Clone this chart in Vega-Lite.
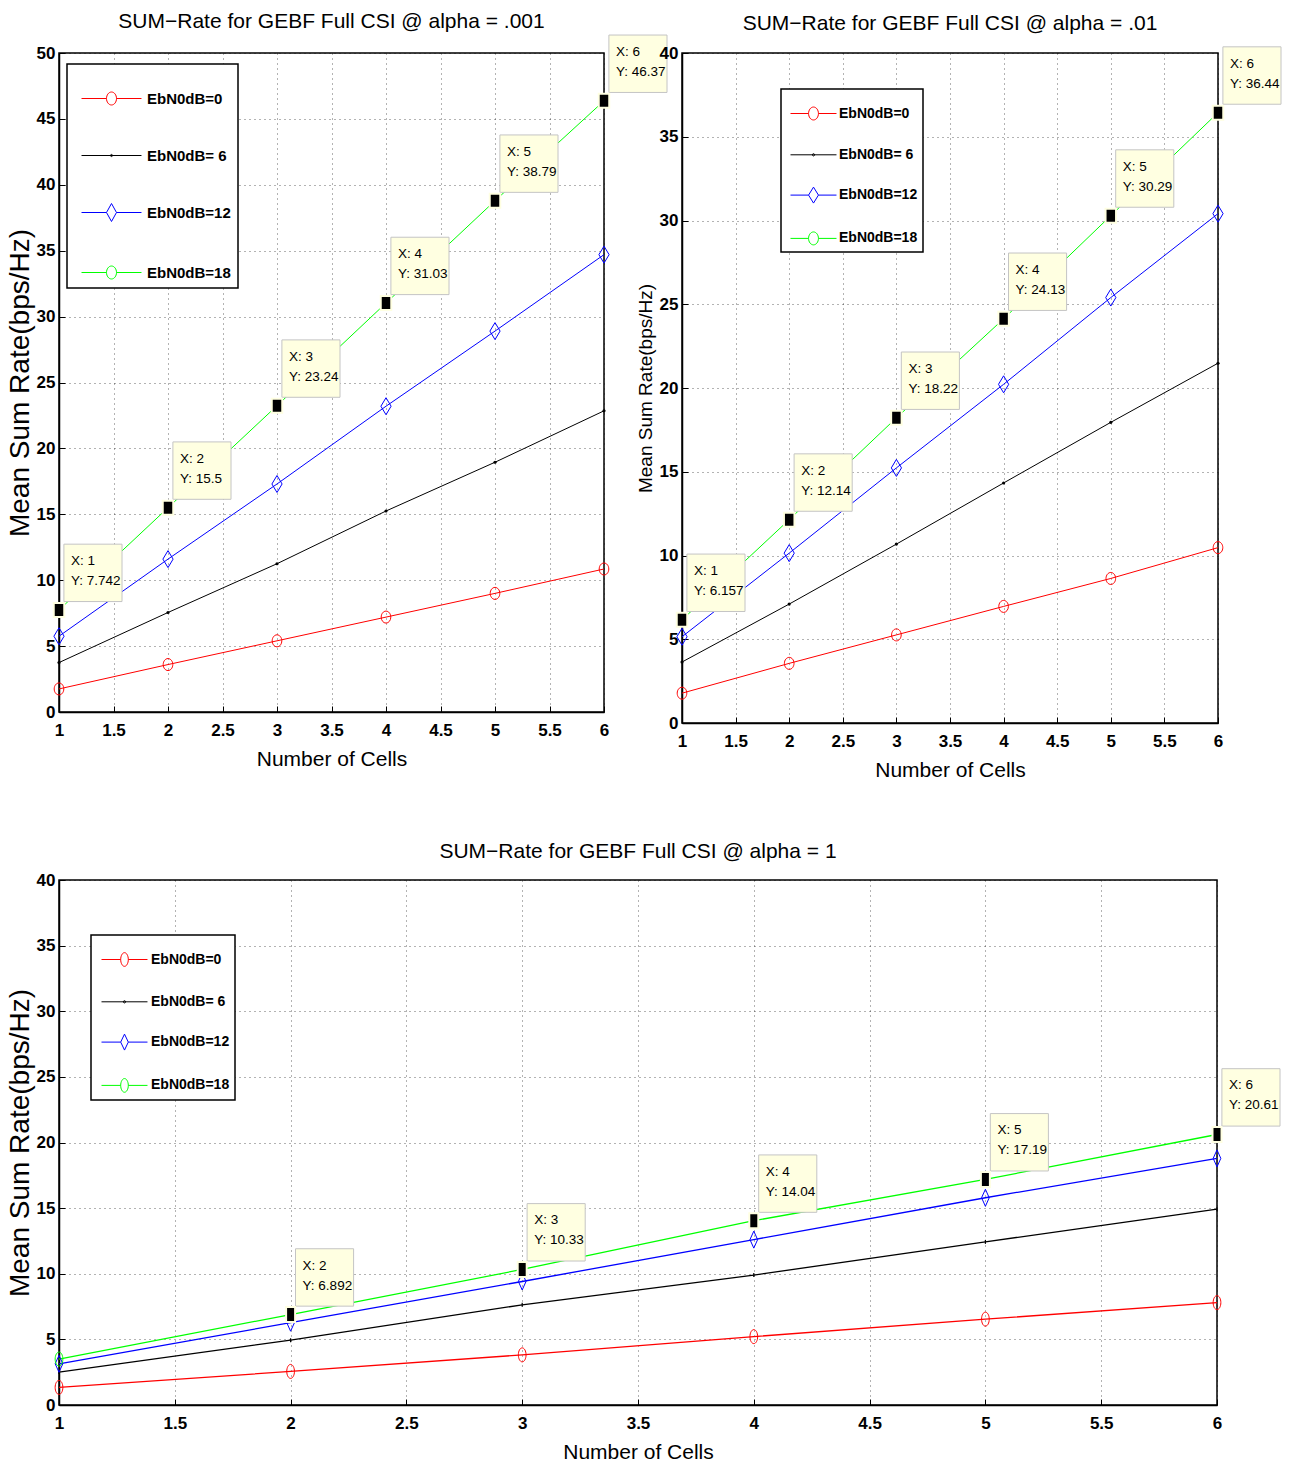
{
  "$schema": "https://vega.github.io/schema/vega-lite/v6.json",
  "background": "white",
  "padding": {"left": 5, "top": 10, "right": 5, "bottom": 5},
  "datasets": {
    "d": [
      {"p": "a", "s": "EbN0dB=0", "x": 1, "y": 1.75},
      {"p": "a", "s": "EbN0dB=0", "x": 2, "y": 3.6},
      {"p": "a", "s": "EbN0dB=0", "x": 3, "y": 5.4},
      {"p": "a", "s": "EbN0dB=0", "x": 4, "y": 7.2},
      {"p": "a", "s": "EbN0dB=0", "x": 5, "y": 9.0},
      {"p": "a", "s": "EbN0dB=0", "x": 6, "y": 10.85},
      {"p": "a", "s": "EbN0dB= 6", "x": 1, "y": 3.75},
      {"p": "a", "s": "EbN0dB= 6", "x": 2, "y": 7.55},
      {"p": "a", "s": "EbN0dB= 6", "x": 3, "y": 11.25},
      {"p": "a", "s": "EbN0dB= 6", "x": 4, "y": 15.25},
      {"p": "a", "s": "EbN0dB= 6", "x": 5, "y": 18.95},
      {"p": "a", "s": "EbN0dB= 6", "x": 6, "y": 22.85},
      {"p": "a", "s": "EbN0dB=12", "x": 1, "y": 5.75},
      {"p": "a", "s": "EbN0dB=12", "x": 2, "y": 11.6},
      {"p": "a", "s": "EbN0dB=12", "x": 3, "y": 17.3},
      {"p": "a", "s": "EbN0dB=12", "x": 4, "y": 23.2},
      {"p": "a", "s": "EbN0dB=12", "x": 5, "y": 28.9},
      {"p": "a", "s": "EbN0dB=12", "x": 6, "y": 34.7},
      {"p": "a", "s": "EbN0dB=18", "x": 1, "y": 7.742},
      {"p": "a", "s": "EbN0dB=18", "x": 2, "y": 15.5},
      {"p": "a", "s": "EbN0dB=18", "x": 3, "y": 23.24},
      {"p": "a", "s": "EbN0dB=18", "x": 4, "y": 31.03},
      {"p": "a", "s": "EbN0dB=18", "x": 5, "y": 38.79},
      {"p": "a", "s": "EbN0dB=18", "x": 6, "y": 46.37},
      {"p": "b", "s": "EbN0dB=0", "x": 1, "y": 1.78},
      {"p": "b", "s": "EbN0dB=0", "x": 2, "y": 3.56},
      {"p": "b", "s": "EbN0dB=0", "x": 3, "y": 5.26},
      {"p": "b", "s": "EbN0dB=0", "x": 4, "y": 6.96},
      {"p": "b", "s": "EbN0dB=0", "x": 5, "y": 8.63},
      {"p": "b", "s": "EbN0dB=0", "x": 6, "y": 10.47},
      {"p": "b", "s": "EbN0dB= 6", "x": 1, "y": 3.64},
      {"p": "b", "s": "EbN0dB= 6", "x": 2, "y": 7.1},
      {"p": "b", "s": "EbN0dB= 6", "x": 3, "y": 10.68},
      {"p": "b", "s": "EbN0dB= 6", "x": 4, "y": 14.33},
      {"p": "b", "s": "EbN0dB= 6", "x": 5, "y": 17.95},
      {"p": "b", "s": "EbN0dB= 6", "x": 6, "y": 21.48},
      {"p": "b", "s": "EbN0dB=12", "x": 1, "y": 5.15},
      {"p": "b", "s": "EbN0dB=12", "x": 2, "y": 10.14},
      {"p": "b", "s": "EbN0dB=12", "x": 3, "y": 15.23},
      {"p": "b", "s": "EbN0dB=12", "x": 4, "y": 20.22},
      {"p": "b", "s": "EbN0dB=12", "x": 5, "y": 25.4},
      {"p": "b", "s": "EbN0dB=12", "x": 6, "y": 30.41},
      {"p": "b", "s": "EbN0dB=18", "x": 1, "y": 6.157},
      {"p": "b", "s": "EbN0dB=18", "x": 2, "y": 12.14},
      {"p": "b", "s": "EbN0dB=18", "x": 3, "y": 18.22},
      {"p": "b", "s": "EbN0dB=18", "x": 4, "y": 24.13},
      {"p": "b", "s": "EbN0dB=18", "x": 5, "y": 30.29},
      {"p": "b", "s": "EbN0dB=18", "x": 6, "y": 36.44},
      {"p": "c", "s": "EbN0dB=0", "x": 1, "y": 1.34},
      {"p": "c", "s": "EbN0dB=0", "x": 2, "y": 2.56},
      {"p": "c", "s": "EbN0dB=0", "x": 3, "y": 3.82},
      {"p": "c", "s": "EbN0dB=0", "x": 4, "y": 5.21},
      {"p": "c", "s": "EbN0dB=0", "x": 5, "y": 6.54},
      {"p": "c", "s": "EbN0dB=0", "x": 6, "y": 7.8},
      {"p": "c", "s": "EbN0dB= 6", "x": 1, "y": 2.51},
      {"p": "c", "s": "EbN0dB= 6", "x": 2, "y": 4.94},
      {"p": "c", "s": "EbN0dB= 6", "x": 3, "y": 7.63},
      {"p": "c", "s": "EbN0dB= 6", "x": 4, "y": 9.9},
      {"p": "c", "s": "EbN0dB= 6", "x": 5, "y": 12.43},
      {"p": "c", "s": "EbN0dB= 6", "x": 6, "y": 14.92},
      {"p": "c", "s": "EbN0dB=12", "x": 1, "y": 3.14},
      {"p": "c", "s": "EbN0dB=12", "x": 2, "y": 6.27},
      {"p": "c", "s": "EbN0dB=12", "x": 3, "y": 9.41},
      {"p": "c", "s": "EbN0dB=12", "x": 4, "y": 12.6},
      {"p": "c", "s": "EbN0dB=12", "x": 5, "y": 15.79},
      {"p": "c", "s": "EbN0dB=12", "x": 6, "y": 18.79},
      {"p": "c", "s": "EbN0dB=18", "x": 1, "y": 3.5},
      {"p": "c", "s": "EbN0dB=18", "x": 2, "y": 6.892},
      {"p": "c", "s": "EbN0dB=18", "x": 3, "y": 10.33},
      {"p": "c", "s": "EbN0dB=18", "x": 4, "y": 14.04},
      {"p": "c", "s": "EbN0dB=18", "x": 5, "y": 17.19},
      {"p": "c", "s": "EbN0dB=18", "x": 6, "y": 20.61}
    ]
  },
  "config": {
    "view": {"stroke": "black", "strokeWidth": 1.5},
    "title": {"font": "Liberation Sans, Arial, sans-serif", "fontSize": 21, "fontWeight": "normal", "color": "black"},
    "axis": {
      "labelFont": "Liberation Sans, Arial, sans-serif",
      "labelFontWeight": "bold",
      "labelFontSize": 17,
      "labelColor": "black",
      "domainColor": "black",
      "domainWidth": 1.5,
      "tickColor": "black",
      "tickSize": -6,
      "tickWidth": 1,
      "gridColor": "black",
      "gridDash": [1, 4],
      "gridOpacity": 0.6,
      "gridWidth": 1,
      "titleColor": "black",
      "titleFontWeight": "normal"
    },
    "axisX": {"labelPadding": 16, "titleFont": "Liberation Sans, Arial, sans-serif", "titleFontSize": 21, "titlePadding": 10, "labelFlush": false},
    "axisY": {"labelPadding": 10, "titleFont": "Liberation Sans, Arial, sans-serif", "labelBaseline": "middle"},
    "legend": {"labelFont": "Liberation Sans, Arial, sans-serif", "labelFontWeight": "bold", "labelColor": "black", "fillColor": "white", "strokeColor": "black", "strokeWidth": 1.5, "symbolStrokeWidth": 1, "symbolOpacity": 1}
  },
  "spacing": 59,
  "resolve": {
    "scale": {"color": "independent", "shape": "independent"},
    "legend": {"color": "independent", "shape": "independent"}
  },
  "vconcat": [
    {
      "spacing": 78,
      "bounds": "flush",
      "resolve": {
        "scale": {"color": "independent", "shape": "independent"},
        "legend": {"color": "independent", "shape": "independent"}
      },
      "hconcat": [
        {
          "title": {"text": "SUM−Rate for GEBF Full CSI @ alpha = .001", "offset": 1},
          "width": 545,
          "height": 659,
          "data": {"name": "d"},
          "transform": [{"filter": {"field": "p", "equal": "a"}}],
          "encoding": {
            "x": {"field": "x", "type": "quantitative", "scale": {"domain": [1, 6], "nice": false, "zero": false},
              "axis": {"title": "Number of Cells", "values": [1, 1.5, 2, 2.5, 3, 3.5, 4, 4.5, 5, 5.5, 6], "format": "~g", "grid": true}},
            "y": {"field": "y", "type": "quantitative", "scale": {"domain": [0, 50], "nice": false},
              "axis": {"title": "Mean Sum Rate(bps/Hz)", "titleFontSize": 28, "titlePadding": 2, "values": [0, 5, 10, 15, 20, 25, 30, 35, 40, 45, 50], "grid": true}}
          },
          "layer": [
            {"transform": [{"filter": {"field": "s", "equal": "EbN0dB=0"}}], "mark": {"type": "line", "strokeWidth": 1, "color": "#ff0000"}, "encoding": {}},
            {"transform": [{"filter": {"field": "s", "equal": "EbN0dB= 6"}}], "mark": {"type": "line", "strokeWidth": 1, "color": "#000000"}, "encoding": {}},
            {"transform": [{"filter": {"field": "s", "equal": "EbN0dB=12"}}], "mark": {"type": "line", "strokeWidth": 1, "color": "#0000ff"}, "encoding": {}},
            {"transform": [{"filter": {"field": "s", "equal": "EbN0dB=18"}}], "mark": {"type": "line", "strokeWidth": 1, "color": "#00ff00"}, "encoding": {}},
            {"transform": [{"filter": {"field": "s", "equal": "EbN0dB=0"}}],
             "mark": {"type": "point", "shape": "M0.8,0A0.8,1 0 1,1 -0.8,0A0.8,1 0 1,1 0.8,0Z", "size": 144, "filled": false, "color": "#ff0000", "strokeWidth": 1, "opacity": 1}},
            {"transform": [{"filter": {"field": "s", "equal": "EbN0dB= 6"}}],
             "mark": {"type": "point", "shape": "circle", "size": 10, "filled": true, "color": "#000000", "opacity": 1}},
            {"transform": [{"filter": {"field": "s", "equal": "EbN0dB=12"}}],
             "mark": {"type": "point", "shape": "M0,-1L0.6,0L0,1L-0.6,0Z", "size": 289, "filled": false, "color": "#0000ff", "strokeWidth": 1, "opacity": 1}},
            {"transform": [{"filter": {"field": "s", "equal": "EbN0dB=18"}}],
             "mark": {"type": "point", "shape": "M0.8,0A0.8,1 0 1,1 -0.8,0A0.8,1 0 1,1 0.8,0Z", "size": 144, "filled": false, "color": "#00ff00", "strokeWidth": 1, "opacity": 1}},
            {"transform": [{"filter": {"field": "s", "equal": "EbN0dB=18"}}],
             "mark": {"type": "point", "shape": "M0.07,-0.12H0.9V-0.94H0.07Z", "size": 19600, "filled": true, "fill": "#ffffe1", "stroke": "#c4c4c4", "strokeWidth": 1, "opacity": 1}},
            {"transform": [{"filter": {"field": "s", "equal": "EbN0dB=18"}}],
             "mark": {"type": "point", "shape": "M-0.75,-1H0.75V1H-0.75Z", "size": 196, "filled": true, "fill": "#000000", "stroke": "#ffffe1", "strokeWidth": 2, "opacity": 1}},
            {"transform": [{"filter": {"field": "s", "equal": "EbN0dB=18"}}, {"calculate": "['X: ' + datum.x, 'Y: ' + datum.y]", "as": "tip"}],
             "mark": {"type": "text", "align": "left", "baseline": "top", "dx": 12, "dy": -56, "font": "Liberation Sans, Arial, sans-serif", "fontSize": 13.5, "lineHeight": 20, "color": "black"},
             "encoding": {"text": {"field": "tip", "type": "nominal"}}},
            {"mark": {"type": "point", "filled": false, "opacity": 0},
             "encoding": {
               "color": {"field": "s", "type": "nominal", "scale": {"domain": ["EbN0dB=0", "EbN0dB= 6", "EbN0dB=12", "EbN0dB=18"], "range": ["#ff0000", "#000000", "#0000ff", "#00ff00"]},
                 "legend": {"title": null, "orient": "none", "legendX": 8, "legendY": 11, "padding": 7, "symbolSize": 2916, "symbolOffset": 10, "labelOffset": 8, "rowPadding": 21, "labelFontSize": 15, "symbolOpacity": 1, "labelExpr": "datum.label + '      '"}},
               "shape": {"field": "s", "type": "nominal", "scale": {"domain": ["EbN0dB=0", "EbN0dB= 6", "EbN0dB=12", "EbN0dB=18"],
                 "range": [
                   "M-1.11,0H-0.185M0.185,0H1.11M0.185,0A0.185,0.24 0 1,0 -0.185,0A0.185,0.24 0 1,0 0.185,0",
                   "M-1.11,0H1.11M0.04,0A0.04,0.04 0 1,0 -0.04,0A0.04,0.04 0 1,0 0.04,0",
                   "M-1.11,0H-0.185M0.185,0H1.11M0,-0.333L0.185,0L0,0.333L-0.185,0Z",
                   "M-1.11,0H-0.185M0.185,0H1.11M0.185,0A0.185,0.24 0 1,0 -0.185,0A0.185,0.24 0 1,0 0.185,0"
                 ]},
                 "legend": {"title": null, "orient": "none", "legendX": 8, "legendY": 11, "padding": 7, "symbolSize": 2916, "symbolOffset": 10, "labelOffset": 8, "rowPadding": 21, "labelFontSize": 15, "symbolOpacity": 1, "labelExpr": "datum.label + '      '"}}
             }}
          ]
        },
        {
          "title": {"text": "SUM−Rate for GEBF Full CSI @ alpha = .01", "offset": 10},
          "width": 536,
          "height": 670,
          "data": {"name": "d"},
          "transform": [{"filter": {"field": "p", "equal": "b"}}],
          "encoding": {
            "x": {"field": "x", "type": "quantitative", "scale": {"domain": [1, 6], "nice": false, "zero": false},
              "axis": {"title": "Number of Cells", "values": [1, 1.5, 2, 2.5, 3, 3.5, 4, 4.5, 5, 5.5, 6], "format": "~g", "grid": true}},
            "y": {"field": "y", "type": "quantitative", "scale": {"domain": [0, 40], "nice": false},
              "axis": {"title": "Mean Sum Rate(bps/Hz)", "titleFontSize": 19, "titlePadding": 4, "values": [0, 5, 10, 15, 20, 25, 30, 35, 40], "grid": true}}
          },
          "layer": [
            {"transform": [{"filter": {"field": "s", "equal": "EbN0dB=0"}}], "mark": {"type": "line", "strokeWidth": 1, "color": "#ff0000"}, "encoding": {}},
            {"transform": [{"filter": {"field": "s", "equal": "EbN0dB= 6"}}], "mark": {"type": "line", "strokeWidth": 1, "color": "#000000"}, "encoding": {}},
            {"transform": [{"filter": {"field": "s", "equal": "EbN0dB=12"}}], "mark": {"type": "line", "strokeWidth": 1, "color": "#0000ff"}, "encoding": {}},
            {"transform": [{"filter": {"field": "s", "equal": "EbN0dB=18"}}], "mark": {"type": "line", "strokeWidth": 1, "color": "#00ff00"}, "encoding": {}},
            {"transform": [{"filter": {"field": "s", "equal": "EbN0dB=0"}}],
             "mark": {"type": "point", "shape": "M0.8,0A0.8,1 0 1,1 -0.8,0A0.8,1 0 1,1 0.8,0Z", "size": 144, "filled": false, "color": "#ff0000", "strokeWidth": 1, "opacity": 1}},
            {"transform": [{"filter": {"field": "s", "equal": "EbN0dB= 6"}}],
             "mark": {"type": "point", "shape": "circle", "size": 10, "filled": true, "color": "#000000", "opacity": 1}},
            {"transform": [{"filter": {"field": "s", "equal": "EbN0dB=12"}}],
             "mark": {"type": "point", "shape": "M0,-1L0.6,0L0,1L-0.6,0Z", "size": 289, "filled": false, "color": "#0000ff", "strokeWidth": 1, "opacity": 1}},
            {"transform": [{"filter": {"field": "s", "equal": "EbN0dB=18"}}],
             "mark": {"type": "point", "shape": "M0.8,0A0.8,1 0 1,1 -0.8,0A0.8,1 0 1,1 0.8,0Z", "size": 144, "filled": false, "color": "#00ff00", "strokeWidth": 1, "opacity": 1}},
            {"transform": [{"filter": {"field": "s", "equal": "EbN0dB=18"}}],
             "mark": {"type": "point", "shape": "M0.07,-0.12H0.9V-0.94H0.07Z", "size": 19600, "filled": true, "fill": "#ffffe1", "stroke": "#c4c4c4", "strokeWidth": 1, "opacity": 1}},
            {"transform": [{"filter": {"field": "s", "equal": "EbN0dB=18"}}],
             "mark": {"type": "point", "shape": "M-0.75,-1H0.75V1H-0.75Z", "size": 196, "filled": true, "fill": "#000000", "stroke": "#ffffe1", "strokeWidth": 2, "opacity": 1}},
            {"transform": [{"filter": {"field": "s", "equal": "EbN0dB=18"}}, {"calculate": "['X: ' + datum.x, 'Y: ' + datum.y]", "as": "tip"}],
             "mark": {"type": "text", "align": "left", "baseline": "top", "dx": 12, "dy": -56, "font": "Liberation Sans, Arial, sans-serif", "fontSize": 13.5, "lineHeight": 20, "color": "black"},
             "encoding": {"text": {"field": "tip", "type": "nominal"}}},
            {"mark": {"type": "point", "filled": false, "opacity": 0},
             "encoding": {
               "color": {"field": "s", "type": "nominal", "scale": {"domain": ["EbN0dB=0", "EbN0dB= 6", "EbN0dB=12", "EbN0dB=18"], "range": ["#ff0000", "#000000", "#0000ff", "#00ff00"]},
                 "legend": {"title": null, "orient": "none", "legendX": 99, "legendY": 36, "padding": 5, "symbolSize": 1444, "symbolOffset": 8, "labelOffset": 6, "rowPadding": 13.3, "labelFontSize": 14, "symbolOpacity": 1}},
               "shape": {"field": "s", "type": "nominal", "scale": {"domain": ["EbN0dB=0", "EbN0dB= 6", "EbN0dB=12", "EbN0dB=18"],
                 "range": [
                   "M-1.21,0H-0.26M0.26,0H1.21M0.26,0A0.26,0.34 0 1,0 -0.26,0A0.26,0.34 0 1,0 0.26,0",
                   "M-1.21,0H1.21M0.06,0A0.06,0.06 0 1,0 -0.06,0A0.06,0.06 0 1,0 0.06,0",
                   "M-1.21,0H-0.26M0.26,0H1.21M0,-0.42L0.26,0L0,0.42L-0.26,0Z",
                   "M-1.21,0H-0.26M0.26,0H1.21M0.26,0A0.26,0.34 0 1,0 -0.26,0A0.26,0.34 0 1,0 0.26,0"
                 ]},
                 "legend": {"title": null, "orient": "none", "legendX": 99, "legendY": 36, "padding": 5, "symbolSize": 1444, "symbolOffset": 8, "labelOffset": 6, "rowPadding": 13.3, "labelFontSize": 14, "symbolOpacity": 1}}
             }}
          ]
        }
      ]
    },
    {
      "title": {"text": "SUM−Rate for GEBF Full CSI @ alpha = 1", "offset": 9},
      "width": 1158,
      "height": 525,
      "data": {"name": "d"},
      "transform": [{"filter": {"field": "p", "equal": "c"}}],
      "encoding": {
        "x": {"field": "x", "type": "quantitative", "scale": {"domain": [1, 6], "nice": false, "zero": false},
          "axis": {"title": "Number of Cells", "values": [1, 1.5, 2, 2.5, 3, 3.5, 4, 4.5, 5, 5.5, 6], "format": "~g", "grid": true}},
        "y": {"field": "y", "type": "quantitative", "scale": {"domain": [0, 40], "nice": false},
          "axis": {"title": "Mean Sum Rate(bps/Hz)", "titleFontSize": 28, "titlePadding": 2, "values": [0, 5, 10, 15, 20, 25, 30, 35, 40], "grid": true}}
      },
      "layer": [
        {"transform": [{"filter": {"field": "s", "equal": "EbN0dB=0"}}], "mark": {"type": "line", "strokeWidth": 1.3, "color": "#ff0000"}, "encoding": {}},
        {"transform": [{"filter": {"field": "s", "equal": "EbN0dB= 6"}}], "mark": {"type": "line", "strokeWidth": 1.3, "color": "#000000"}, "encoding": {}},
        {"transform": [{"filter": {"field": "s", "equal": "EbN0dB=12"}}], "mark": {"type": "line", "strokeWidth": 1.3, "color": "#0000ff"}, "encoding": {}},
        {"transform": [{"filter": {"field": "s", "equal": "EbN0dB=18"}}], "mark": {"type": "line", "strokeWidth": 1.3, "color": "#00ff00"}, "encoding": {}},
        {"transform": [{"filter": {"field": "s", "equal": "EbN0dB=0"}}],
         "mark": {"type": "point", "shape": "M0.55,0A0.55,1 0 1,1 -0.55,0A0.55,1 0 1,1 0.55,0Z", "size": 196, "filled": false, "color": "#ff0000", "strokeWidth": 1, "opacity": 1}},
        {"transform": [{"filter": {"field": "s", "equal": "EbN0dB= 6"}}],
         "mark": {"type": "point", "shape": "M-0.3,-1H0.3V1H-0.3Z", "size": 16, "filled": true, "color": "#000000", "opacity": 1}},
        {"transform": [{"filter": {"field": "s", "equal": "EbN0dB=12"}}],
         "mark": {"type": "point", "shape": "M0,-1L0.45,0L0,1L-0.45,0Z", "size": 289, "filled": false, "color": "#0000ff", "strokeWidth": 1, "opacity": 1}},
        {"transform": [{"filter": {"field": "s", "equal": "EbN0dB=18"}}],
         "mark": {"type": "point", "shape": "M0.55,0A0.55,1 0 1,1 -0.55,0A0.55,1 0 1,1 0.55,0Z", "size": 196, "filled": false, "color": "#00ff00", "strokeWidth": 1, "opacity": 1}},
        {"transform": [{"filter": {"field": "s", "equal": "EbN0dB=18"}}, {"filter": "datum.x >= 2"}],
         "mark": {"type": "point", "shape": "M0.07,-0.12H0.9V-0.94H0.07Z", "size": 19600, "filled": true, "fill": "#ffffe1", "stroke": "#c4c4c4", "strokeWidth": 1, "opacity": 1}},
        {"transform": [{"filter": {"field": "s", "equal": "EbN0dB=18"}}, {"filter": "datum.x >= 2"}],
         "mark": {"type": "point", "shape": "M-0.6,-1H0.6V1H-0.6Z", "size": 225, "filled": true, "fill": "#000000", "stroke": "#ffffe1", "strokeWidth": 2, "opacity": 1}},
        {"transform": [{"filter": {"field": "s", "equal": "EbN0dB=18"}}, {"filter": "datum.x >= 2"}, {"calculate": "['X: ' + datum.x, 'Y: ' + datum.y]", "as": "tip"}],
         "mark": {"type": "text", "align": "left", "baseline": "top", "dx": 12, "dy": -56, "font": "Liberation Sans, Arial, sans-serif", "fontSize": 13.5, "lineHeight": 20, "color": "black"},
         "encoding": {"text": {"field": "tip", "type": "nominal"}}},
        {"mark": {"type": "point", "filled": false, "opacity": 0},
         "encoding": {
           "color": {"field": "s", "type": "nominal", "scale": {"domain": ["EbN0dB=0", "EbN0dB= 6", "EbN0dB=12", "EbN0dB=18"], "range": ["#ff0000", "#000000", "#0000ff", "#00ff00"]},
             "legend": {"title": null, "orient": "none", "legendX": 32, "legendY": 55, "padding": 5, "symbolSize": 1444, "symbolOffset": 9, "labelOffset": 7, "rowPadding": 13.3, "labelFontSize": 14, "symbolOpacity": 1}},
           "shape": {"field": "s", "type": "nominal", "scale": {"domain": ["EbN0dB=0", "EbN0dB= 6", "EbN0dB=12", "EbN0dB=18"],
             "range": [
               "M-1.21,0H-0.2M0.2,0H1.21M0.2,0A0.2,0.36 0 1,0 -0.2,0A0.2,0.36 0 1,0 0.2,0",
               "M-1.21,0H1.21M0.06,0A0.06,0.06 0 1,0 -0.06,0A0.06,0.06 0 1,0 0.06,0",
               "M-1.21,0H-0.2M0.2,0H1.21M0,-0.42L0.2,0L0,0.42L-0.2,0Z",
               "M-1.21,0H-0.2M0.2,0H1.21M0.2,0A0.2,0.36 0 1,0 -0.2,0A0.2,0.36 0 1,0 0.2,0"
             ]},
             "legend": {"title": null, "orient": "none", "legendX": 32, "legendY": 55, "padding": 5, "symbolSize": 1444, "symbolOffset": 9, "labelOffset": 7, "rowPadding": 13.3, "labelFontSize": 14, "symbolOpacity": 1}}
         }}
      ]
    }
  ]
}
